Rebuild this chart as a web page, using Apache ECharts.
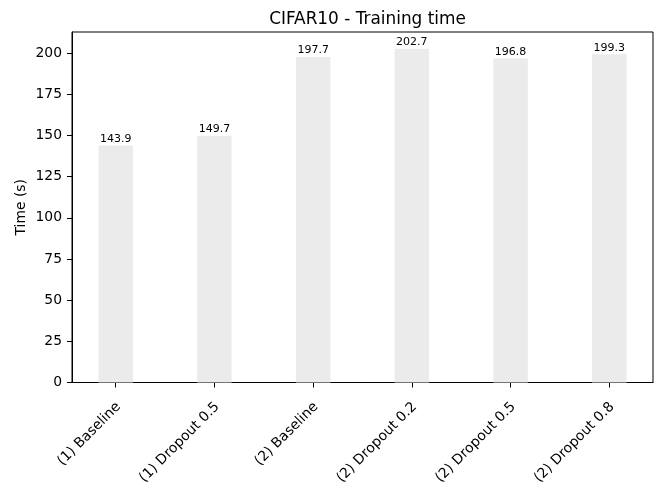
<!DOCTYPE html>
<html><head><meta charset="utf-8">
<script src="https://cdn.jsdelivr.net/npm/echarts@6/dist/echarts.min.js"></script>
<style>html,body{margin:0;padding:0;background:#fff}#c{width:657px;height:485px}</style>
</head><body><div id="c"></div>
<script>
const categories = ['(1) Baseline', '(1) Dropout 0.5', '(2) Baseline', '(2) Dropout 0.2', '(2) Dropout 0.5', '(2) Dropout 0.8'];
const times = [143.9, 149.7, 197.7, 202.7, 196.8, 199.3];
const yTicks = [0, 25, 50, 75, 100, 125, 150, 175, 200];
const xTicks = categories.map((c, i) => i);

const FONT = 'DejaVu Sans';
const chart = echarts.init(document.getElementById('c'), null, {renderer: 'canvas'});
chart.setOption({
  animation: false,
  backgroundColor: '#ffffff',
  title: {
    text: 'CIFAR10 - Training time',
    left: 362.5, top: 6, textAlign: 'center',
    textStyle: {fontFamily: FONT, fontSize: 16.9, fontWeight: 'normal', color: '#000'}
  },
  grid: {left: 72, right: 4, top: 32, bottom: 102.5, show: true, borderColor: '#000', borderWidth: 1,
         backgroundColor: 'transparent', outerBoundsMode: 'none', containLabel: false},
  xAxis: {
    type: 'value', min: -0.4425, max: 5.4425,
    splitLine: {show: false},
    axisLine: {show: true, onZero: false, lineStyle: {color: '#000', width: 1}},
    axisTick: {show: true, length: 5, lineStyle: {color: '#000'}, customValues: xTicks},
    axisLabel: {
      customValues: xTicks, rotate: 45, margin: 25, align: 'right', verticalAlign: 'middle',
      padding: [0, -4, 0, 0],
      fontFamily: FONT, fontSize: 13.9, lineHeight: 16, color: '#000',
      formatter: v => categories[Math.round(v)]
    }
  },
  yAxis: {
    type: 'value', min: 0, max: 212.835,
    name: 'Time (s)', nameLocation: 'middle', nameGap: 44, nameMoveOverlap: false,
    nameTextStyle: {fontFamily: FONT, fontSize: 13.9, color: '#000'},
    splitLine: {show: false},
    axisLine: {show: true, onZero: false, lineStyle: {color: '#000', width: 1}},
    axisTick: {show: true, length: 5, lineStyle: {color: '#000'}, customValues: yTicks},
    axisLabel: {customValues: yTicks, margin: 10, fontFamily: FONT, fontSize: 13.9, color: '#000'}
  },
  series: [{
    type: 'bar',
    data: times.map((t, i) => [i, t]),
    barWidth: 34.5,
    itemStyle: {color: '#ebebeb'},
    label: {
      show: true, position: 'top', distance: 1,
      fontFamily: FONT, fontSize: 11, color: '#000',
      formatter: p => p.value[1].toFixed(1)
    }
  }]
});
</script>
</body></html>
